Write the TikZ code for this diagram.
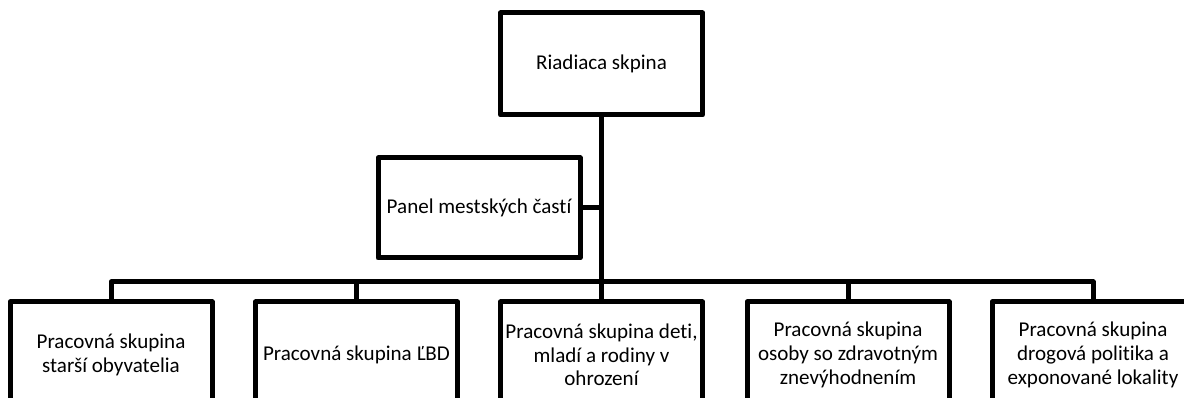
\documentclass[tikz,border=0pt]{standalone}
\usepackage{fontspec}
\setmainfont{Carlito}[Ligatures=NoCommon]
\begin{document}
\begin{tikzpicture}[x=0.75pt,y=-0.75pt,
  box/.style={draw=black, line width=3.75pt, line join=round, minimum width=151.5pt, minimum height=75pt, inner sep=0pt, align=center, font=\fontsize{15.8}{17.8}\selectfont},
  lowbox/.style={box, minimum height=79.5pt},
  conn/.style={draw=black, line width=3.75pt, line join=round}]
\useasboundingbox (0,0) rectangle (1184,398);
\clip (0,0) rectangle (1184,398);
\node[box, minimum height=76.5pt] (top) at (601.5,64) {Riadiaca skpina};
\node[box] (panel) at (479,208) {Panel mestských častí};
\node[lowbox] (b1) at (111,355) {Pracovná skupina\\starší obyvatelia};
\node[lowbox] (b2) at (356.5,355) {Pracovná skupina ĽBD};
\node[lowbox] (b3) at (601.5,355) {Pracovná skupina deti,\\mladí a rodiny v\\ohrození};
\node[lowbox] (b4) at (848,355) {Pracovná skupina\\osoby so zdravotným\\znevýhodnením};
\node[lowbox] (b5) at (1093,355) {Pracovná skupina\\drogová politika a\\exponované lokality};
\coordinate (bus) at (601.5,282);
\draw[conn] (top.south) -- (b3.north);
\draw[conn] (panel.east) -- (panel.east -| top.south);
\draw[conn] (b1.north) -- (b1.north |- bus) -- (b5.north |- bus) -- (b5.north);
\draw[conn] (b2.north) -- (b2.north |- bus);
\draw[conn] (b4.north) -- (b4.north |- bus);
\end{tikzpicture}
\end{document}
